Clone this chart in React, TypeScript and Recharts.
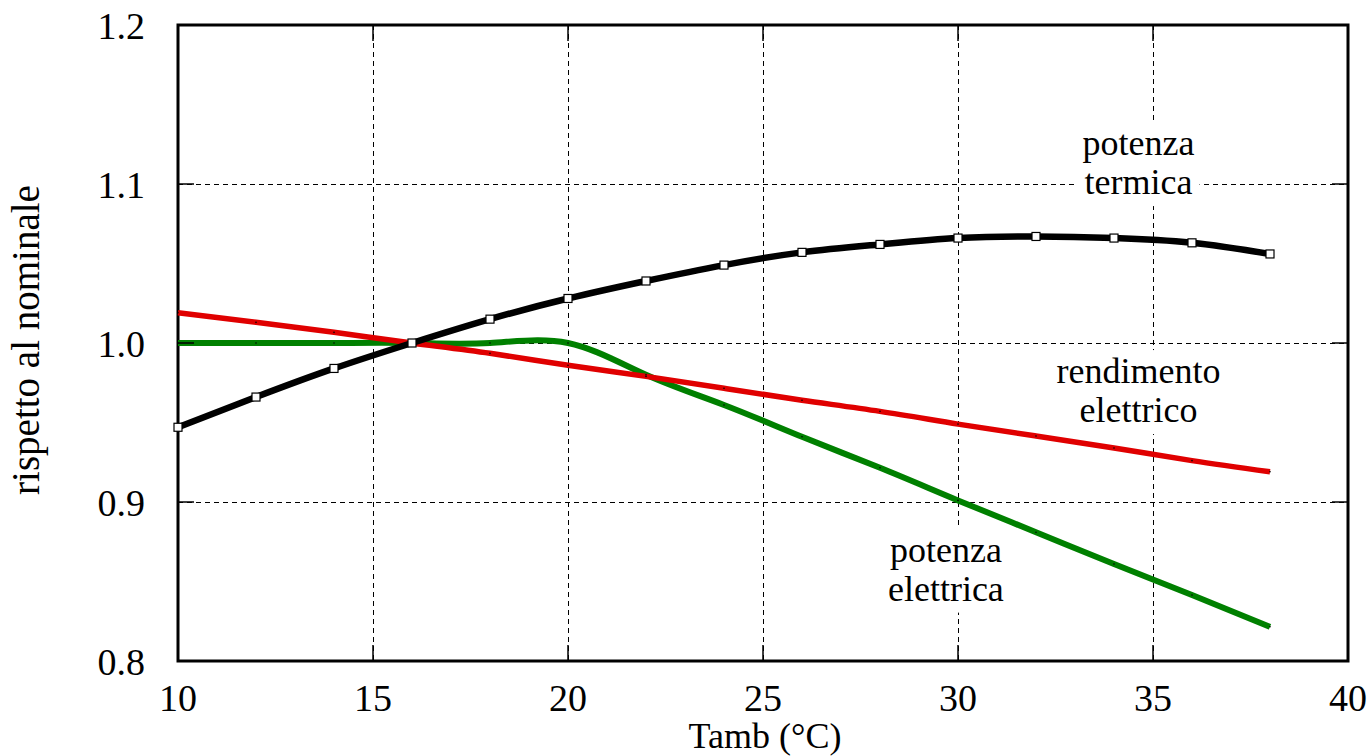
import React from 'react';
import {
    LineChart,
    Line,
    XAxis,
    YAxis,
    CartesianGrid,
    ReferenceArea,
    ReferenceDot,
    Label,
} from 'recharts';

// temperature ambiente (°C)
const tamb = [10, 12, 14, 16, 18, 20, 22, 24, 26, 28, 30, 32, 34, 36, 38];

// valori riferiti al nominale
const potenzaTermica = [0.947, 0.966, 0.984, 1.0, 1.015, 1.028, 1.039, 1.049, 1.057, 1.062, 1.066, 1.067, 1.066, 1.063, 1.056];
const rendimentoElettrico = [1.019, 1.013, 1.0067, 1.0, 0.9935, 0.986, 0.979, 0.9715, 0.964, 0.957, 0.949, 0.9415, 0.934, 0.926, 0.919];
const potenzaElettrica = [1.0, 1.0, 1.0, 1.0, 1.0, 1.0, 0.98, 0.961, 0.941, 0.9215, 0.901, 0.881, 0.861, 0.8415, 0.8215];

const xTicks = [10, 15, 20, 25, 30, 35, 40];
const yTicks = [0.8, 0.9, 1.0, 1.1, 1.2];

// etichette nel grafico (x centro, y linea base della prima riga)
const annotations = [
    { lines: ['potenza', 'termica'], x: 34.63, y: 1.1182 },
    { lines: ['rendimento', 'elettrico'], x: 34.63, y: 0.9748 },
    { lines: ['potenza', 'elettrica'], x: 29.69, y: 0.8625 },
];

const FONT = "'Liberation Serif', 'Times New Roman', serif";
const PL = 178;
const PR = 1348;
const PT = 25;
const PB = 661;
const TICK_LEN = 16;
const LINE_GAP = 39;

// larghezze approssimate dei caratteri Times (em)
const CHAR_W: Record<string, number> = {
    a: 0.444, b: 0.5, c: 0.444, d: 0.5, e: 0.444, f: 0.333, g: 0.5, h: 0.5, i: 0.278, j: 0.278,
    k: 0.5, l: 0.278, m: 0.778, n: 0.5, o: 0.5, p: 0.5, q: 0.5, r: 0.333, s: 0.389, t: 0.278,
    u: 0.5, v: 0.5, w: 0.722, x: 0.5, y: 0.5, z: 0.444,
};
const textWidth = (s: string, fs: number) =>
    s.split('').reduce((sum, c) => sum + (CHAR_W[c] ?? 0.5), 0) * fs;

const data = tamb.map((t, i) => ({
    tamb: t,
    termica: potenzaTermica[i],
    rendimento: rendimentoElettrico[i],
    elettrica: potenzaElettrica[i],
}));

const YTick = (props: any) => {
    const { y, payload } = props;
    return (
        <g>
            <line x1={PL} x2={PL + TICK_LEN} y1={y} y2={y} stroke="#000" strokeWidth={1.5} />
            <line x1={PR - TICK_LEN} x2={PR} y1={y} y2={y} stroke="#000" strokeWidth={1.5} />
            <text x={145} y={y + 13.5} textAnchor="end" fontFamily={FONT} fontSize={38} fill="#000">
                {Number(payload.value).toFixed(1)}
            </text>
        </g>
    );
};

const XTick = (props: any) => {
    const { x, payload } = props;
    return (
        <g>
            <line x1={x} x2={x} y1={PB - TICK_LEN} y2={PB} stroke="#000" strokeWidth={1.5} />
            <line x1={x} x2={x} y1={PT} y2={PT + TICK_LEN} stroke="#000" strokeWidth={1.5} />
            <text x={x} y={PB + 50} textAnchor="middle" fontFamily={FONT} fontSize={38} fill="#000">
                {payload.value}
            </text>
        </g>
    );
};

const SquareDot = (props: any) => {
    const { cx, cy, index } = props;
    if (cx == null || cy == null) return <g key={index} />;
    return <rect key={index} x={cx - 4} y={cy - 4} width={8} height={8} fill="#fff" stroke="#000" strokeWidth={1.2} />;
};

const makeNote = (lines: string[]) => (props: any) => {
    const { cx, cy } = props;
    const fs = 36;
    const w = Math.max(...lines.map((l) => textWidth(l, fs))) + 10;
    const top = cy - fs * 0.75 - 6;
    const bottom = cy + (lines.length - 1) * LINE_GAP + 12;
    return (
        <g>
            <rect x={cx - w / 2} y={top} width={w} height={bottom - top} fill="#fff" />
            {lines.map((l, i) => (
                <text key={l} x={cx} y={cy + i * LINE_GAP} textAnchor="middle" fontFamily={FONT} fontSize={fs} fill="#000">
                    {l}
                </text>
            ))}
        </g>
    );
};

export default function App() {
    return (
        <div style={{ position: 'absolute', left: 0, top: 0, width: 1370, height: 756, background: '#fff' }}>
            <LineChart width={1370} height={756} data={data} margin={{ top: PT, right: 22, bottom: 0, left: 0 }}>
                <CartesianGrid
                    stroke="#000"
                    strokeWidth={1}
                    strokeDasharray="5 4"
                    shapeRendering="crispEdges"
                    horizontalValues={yTicks}
                    verticalValues={xTicks}
                />
                <XAxis
                    dataKey="tamb"
                    type="number"
                    domain={[10, 40]}
                    ticks={xTicks}
                    interval={0}
                    height={95}
                    axisLine={false}
                    tickLine={false}
                    tick={<XTick />}
                >
                    <Label
                        content={() => (
                            <text x={765} y={748} textAnchor="middle" fontFamily={FONT} fontSize={36} fill="#000">
                                Tamb (°C)
                            </text>
                        )}
                    />
                </XAxis>
                <YAxis
                    type="number"
                    domain={[0.8, 1.2]}
                    ticks={yTicks}
                    interval={0}
                    width={178}
                    axisLine={false}
                    tickLine={false}
                    tick={<YTick />}
                >
                    <Label
                        content={() => (
                            <text
                                x={39}
                                y={340}
                                transform="rotate(-90, 39, 340)"
                                textAnchor="middle"
                                fontFamily={FONT}
                                fontSize={39}
                                fill="#000"
                            >
                                rispetto al nominale
                            </text>
                        )}
                    />
                </YAxis>

                {annotations.map((a) => (
                    <ReferenceDot key={a.lines.join('-')} x={a.x} y={a.y} r={0} shape={makeNote(a.lines)} />
                ))}

                <Line
                    type="natural"
                    dataKey="elettrica"
                    stroke="#008000"
                    strokeWidth={6}
                    dot={{ r: 0.8, fill: '#000', stroke: 'none' }}
                    isAnimationActive={false}
                />
                <Line
                    type="natural"
                    dataKey="rendimento"
                    stroke="#e00000"
                    strokeWidth={5.5}
                    dot={{ r: 0.8, fill: '#000', stroke: 'none' }}
                    isAnimationActive={false}
                />
                <Line
                    type="natural"
                    dataKey="termica"
                    stroke="#000"
                    strokeWidth={6.5}
                    dot={<SquareDot />}
                    isAnimationActive={false}
                />
                <ReferenceArea x1={10} x2={40} y1={0.8} y2={1.2} fill="none" stroke="#000" strokeWidth={3} />
            </LineChart>
        </div>
    );
}
